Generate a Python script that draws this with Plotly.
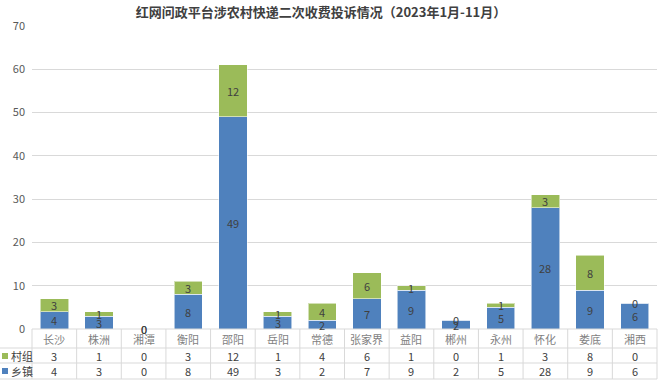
import plotly.graph_objects as go

categories = ["长沙", "株洲", "湘潭", "衡阳", "邵阳", "岳阳", "常德", "张家界", "益阳", "郴州", "永州", "怀化", "娄底", "湘西"]
town_vals = [4, 3, 0, 8, 49, 3, 2, 7, 9, 2, 5, 28, 9, 6]      # 乡镇
village_vals = [3, 1, 0, 3, 12, 1, 4, 6, 1, 0, 1, 3, 8, 0]    # 村组
series_names = ["村组", "乡镇"]
y_ticks = [0, 10, 20, 30, 40, 50, 60, 70]
title_text = "红网问政平台涉农村快递二次收费投诉情况（2023年1月-11月）"

BLUE = "#4F81BD"
GREEN = "#9BBB59"
GRID = "#D9D9D9"
FONT = "Noto Sans CJK SC"

W, H = 659, 380
ML, MR, MT, MB = 32, 2, 26, 51
PW = W - ML - MR
PH = H - MT - MB


def py(pix):
    """pixel y -> paper y"""
    return (H - MB - pix) / PH


def px(pix):
    return (pix - ML) / PW


fig = go.Figure()
fig.add_bar(x=categories, y=town_vals, name=series_names[1], marker_color=BLUE,
            marker_line=dict(color="rgba(255,255,255,0.55)", width=1), hoverinfo="skip")
fig.add_bar(x=categories, y=village_vals, name=series_names[0], marker_color=GREEN,
            marker_line=dict(color="rgba(255,255,255,0.55)", width=1), hoverinfo="skip")

annotations = []
shapes = []
label_font = dict(family=FONT, size=11, color="#404040")

# data labels inside bars
for i, c in enumerate(categories):
    t = town_vals[i]
    v = village_vals[i]
    annotations.append(dict(x=c, y=t / 2, xref="x", yref="y", text=str(t), showarrow=False,
                            font=label_font, xanchor="center", yanchor="middle"))
    annotations.append(dict(x=c, y=t + v / 2, xref="x", yref="y", text=str(v), showarrow=False,
                            font=label_font, xanchor="center", yanchor="middle"))

# data table below the chart
n = len(categories)
row_lines = [348, 363, 379]
top_line = H - MB
for pix in row_lines:
    shapes.append(dict(type="line", xref="paper", yref="paper", x0=px(0), x1=1, y0=py(pix), y1=py(pix),
                       line=dict(color=GRID, width=1)))
shapes.append(dict(type="line", xref="paper", yref="paper", x0=0, x1=1, y0=py(top_line), y1=py(top_line),
                   line=dict(color=GRID, width=1)))
for i in range(n + 1):
    xp = i / n
    shapes.append(dict(type="line", xref="paper", yref="paper", x0=xp, x1=xp, y0=py(top_line), y1=py(379),
                       line=dict(color=GRID, width=1)))

row_cat_y = py(339)
row_v_y = py(356)
row_t_y = py(371)
for i, c in enumerate(categories):
    xc = (i + 0.5) / n
    annotations.append(dict(x=xc, y=row_cat_y, xref="paper", yref="paper", text=c, showarrow=False,
                            font=dict(family=FONT, size=11, color="#7F7F7F"),
                            xanchor="center", yanchor="middle"))
    annotations.append(dict(x=xc, y=row_v_y, xref="paper", yref="paper", text=str(village_vals[i]),
                            showarrow=False, font=label_font, xanchor="center", yanchor="middle"))
    annotations.append(dict(x=xc, y=row_t_y, xref="paper", yref="paper", text=str(town_vals[i]),
                            showarrow=False, font=label_font, xanchor="center", yanchor="middle"))

# legend keys in the table's first column
for name, color, pix in [(series_names[0], GREEN, 356), (series_names[1], BLUE, 371)]:
    shapes.append(dict(type="rect", xref="paper", yref="paper", x0=px(2), x1=px(8),
                       y0=py(pix + 3), y1=py(pix - 3), fillcolor=color, line=dict(width=0)))
    annotations.append(dict(x=px(9), y=py(pix), xref="paper", yref="paper", text=name, showarrow=False,
                            xanchor="left", yanchor="middle",
                            font=dict(family=FONT, size=11, color="#404040")))

fig.update_layout(
    width=W, height=H,
    margin=dict(l=ML, r=MR, t=MT, b=MB),
    barmode="stack",
    bargap=0.365,
    plot_bgcolor="white",
    paper_bgcolor="white",
    showlegend=False,
    title=dict(text="<b>" + title_text + "</b>", x=321 / W, xanchor="center", y=1 - 12 / H, yanchor="middle",
               font=dict(family=FONT, size=13, color="#404040")),
    xaxis=dict(showticklabels=False, ticks="", showgrid=False, zeroline=False, showline=False,
               range=[-0.5, n - 0.5]),
    yaxis=dict(range=[0, 70], tickvals=y_ticks, showgrid=True, gridcolor=GRID, gridwidth=1,
               zeroline=False, showline=False, ticks="", ticklabelstandoff=6,
               tickfont=dict(family=FONT, size=11, color="#595959")),
    annotations=annotations,
    shapes=shapes,
    font=dict(family=FONT),
)

fig.write_html("out.html", config={"displayModeBar": False},
               post_script="document.body.style.margin='0';document.body.style.overflow='hidden';")
